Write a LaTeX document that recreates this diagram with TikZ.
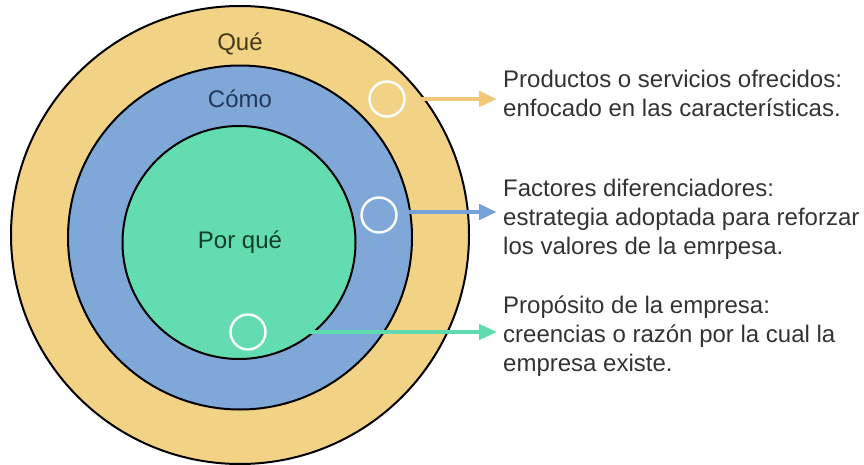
\documentclass[tikz,border=0pt]{standalone}
\usepackage{fontspec}
\setmainfont{Liberation Sans}
\usetikzlibrary{arrows.meta}
\definecolor{ringY}{HTML}{F2D386}
\definecolor{ringB}{HTML}{7FA8D8}
\definecolor{ringG}{HTML}{64DCB2}
\definecolor{arrY}{HTML}{F0C878}
\definecolor{arrB}{HTML}{77A2D9}
\definecolor{arrG}{HTML}{5EDCB0}
\definecolor{txt}{HTML}{333333}
\definecolor{labY}{HTML}{45391C}
\definecolor{labB}{HTML}{1E3A5C}
\definecolor{labG}{HTML}{0F3D2C}
\tikzset{
  ring/.style={circle, draw=black, line width=2pt, inner sep=0pt},
  marker/.style={circle, draw=white, line width=2.4pt, inner sep=0pt, minimum size=35pt},
  ringlabel/.style={font=\fontsize{24}{29}\selectfont, inner sep=0pt, anchor=base},
  sidetext/.style={font=\fontsize{24}{29}\selectfont, text=txt, inner sep=0pt, anchor=base west, align=left},
  conn/.style={line width=4.5pt, -{Triangle[length=18pt,width=15pt]}},
}
\begin{document}
\begin{tikzpicture}[x=1pt, y=-1pt]
\useasboundingbox (0,0) rectangle (864,465);
\node[ring, fill=ringY, minimum size=458pt] (outer) at (240,235) {};
\node[ring, fill=ringB, minimum size=344pt] (middle) at (240,237.5) {};
\node[ring, fill=ringG, minimum size=233pt] (inner) at (239,242.5) {};
\node[ringlabel, text=labY] (que) at (240,51) {Qué};
\node[ringlabel, text=labB] (como) at (240,108) {Cómo};
\node[ringlabel, text=labG] (porque) at (240,248) {Por qué};
\node[marker] (m1) at (387,99) {};
\node[marker] (m2) at (379,215) {};
\node[marker] (m3) at (248,332) {};
% anchor base of a multi-line node is the baseline of its last line
\node[sidetext] (t1) at (503,117) {Productos o servicios ofrecidos:\\enfocado en las características.};
\node[sidetext] (t2) at (503,254) {Factores diferenciadores:\\estrategia adoptada para reforzar\\los valores de la emrpesa.};
\node[sidetext] (t3) at (503,371) {Propósito de la empresa:\\creencias o razón por la cual la\\empresa existe.};
\coordinate (s1) at (420,99);
\coordinate (s2) at (408,212);
\coordinate (s3) at (300,332);
\coordinate (e1) at (497,99);
\coordinate (e2) at (497,212);
\coordinate (e3) at (497,332);
\draw[conn, arrY] (s1) -- (e1);
\draw[conn, arrB] (s2) -- (e2);
\draw[conn, arrG] (s3) -- (e3);
\end{tikzpicture}
\end{document}
